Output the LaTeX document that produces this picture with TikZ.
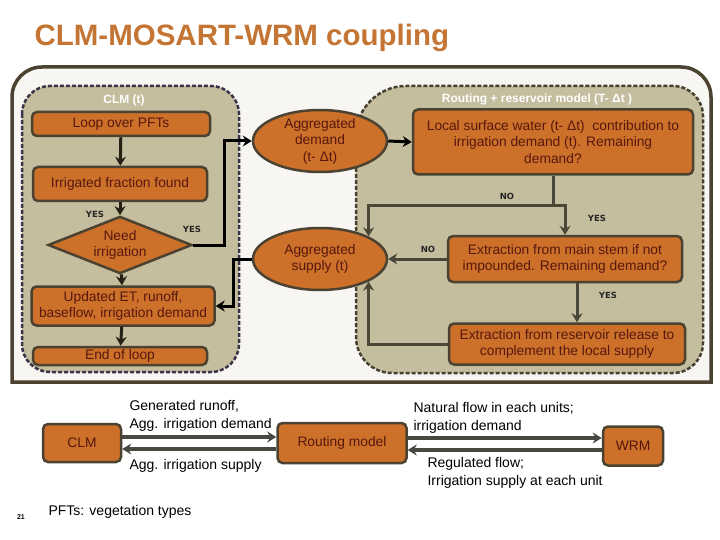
\documentclass[tikz,border=0pt]{standalone}
\usepackage{fontspec}
\setmainfont{Liberation Sans}
\newfontfamily\tagfont{DejaVu Sans}
\usetikzlibrary{shapes.geometric,arrows.meta}
\definecolor{boxorange}{RGB}{204,112,42}
\definecolor{boxedge}{RGB}{75,66,50}
\definecolor{boxtext}{RGB}{88,24,14}
\definecolor{panelfill}{RGB}{196,189,158}
\definecolor{clmedge}{RGB}{58,50,72}
\definecolor{routedge}{RGB}{70,64,48}
\definecolor{pagefill}{RGB}{247,246,242}
\definecolor{titlebrown}{RGB}{196,117,52}
\definecolor{clmline}{RGB}{36,32,20}
\definecolor{routline}{RGB}{74,70,56}
\definecolor{legendline}{RGB}{72,72,66}
\newcommand\flowfont{\fontsize{13.8}{16.5}\selectfont}
\newcommand\legendfont{\fontsize{14}{18}\selectfont}

\begin{document}
\begin{tikzpicture}
[x=1pt,y=-1pt,
 flowbox/.style={draw=boxedge,line width=2.5pt,fill=boxorange,rounded corners=5pt,text=boxtext,align=center,font=\flowfont,inner sep=0pt},
 flowoval/.style={ellipse,draw=boxedge,line width=2.5pt,fill=boxorange,text=boxtext,align=center,font=\flowfont,inner xsep=0pt,inner ysep=-4pt,minimum width=134pt,minimum height=62pt},
 choice/.style={diamond,draw=boxedge,line width=2.5pt,fill=boxorange,text=boxtext,align=center,font=\fontsize{13.8}{15.5}\selectfont,inner sep=-6pt,minimum width=144pt,minimum height=52pt},
 panel/.style={line width=2.5pt,dash pattern=on 4pt off 2pt,fill=panelfill},
 paneltitle/.style={text=white,font=\bfseries\fontsize{12}{14}\selectfont},
 yesno/.style={font=\tagfont\bfseries\fontsize{8.5}{10}\selectfont,text=black!85},
 clmlink/.style={draw=clmline,line width=3pt,-{Stealth[length=9pt,width=11pt,inset=3pt]}},
 routlink/.style={draw=routline,line width=3pt,-{Stealth[length=9pt,width=11pt,inset=3pt]}},
 legendlink/.style={draw=legendline,line width=3.5pt,-{Stealth[length=9pt,width=11pt,inset=3pt]}},
 legendtext/.style={anchor=west,align=left,font=\legendfont}]
\useasboundingbox (0,0) rectangle (720,540);

% title and frames
\node[anchor=base west,text=titlebrown,font=\bfseries\fontsize{29.5}{34}\selectfont] (title) at (31,46) {CLM-MOSART-WRM coupling};
\draw[draw=boxedge,line width=3.5pt,fill=pagefill] (12,382) [rounded corners=30pt] -- (12,67) -- (711,67) [sharp corners] -- (711,382) -- cycle;
\draw[panel,draw=clmedge,rounded corners=28pt] (22,86) rectangle (239,372);
\draw[panel,draw=routedge] (356,220) [rounded corners=50pt] -- (356,86) [rounded corners=30pt] -- (703,86) -- (703,373) [rounded corners=36pt] -- (356,373) [sharp corners] -- cycle;
\node[paneltitle] (clmtitle) at (124,100) {CLM (t)};
\node[paneltitle] (routtitle) at (537,99) {Routing + reservoir model (T- Δt )};

% CLM side
\node[flowbox,minimum width=178pt,minimum height=24pt] (loop) at (121,124) {Loop over PFTs};
\node[flowbox,minimum width=174pt,minimum height=34pt] (irrig) at (120,184) {Irrigated fraction found};
\node[choice] (need) at (120,245) {Need\\irrigation};
\node[flowbox,minimum width=183pt,minimum height=39pt] (updated) at (123,306) {Updated ET, runoff,\\baseflow, irrigation demand};
\node[flowbox,minimum width=174pt,minimum height=18pt] (endloop) at (120,356) {End of loop};

% exchange ovals
\node[flowoval] (aggdem) at (320,141) {Aggregated\\demand\\(t- Δt)};
\node[flowoval] (aggsup) at (320,259) {Aggregated\\supply (t)};

% routing side
\node[flowbox,minimum width=280pt,minimum height=65pt] (local) at (553,142) {Local surface water (t- Δt)\ \ contribution to\\irrigation demand (t). Remaining\\demand?};
\node[flowbox,minimum width=234pt,minimum height=46pt] (mainstem) at (565,259) {Extraction from main stem if not\\impounded. Remaining demand?};
\node[flowbox,minimum width=236pt,minimum height=41pt] (reservoir) at (567,344) {Extraction from reservoir release to\\complement the local supply};

\node[yesno] (yes1) at (95,214) {YES};
\node[yesno] (yes2) at (192,229) {YES};
\node[yesno] (no1) at (507,196) {NO};
\node[yesno] (yes3) at (597,218) {YES};
\node[yesno] (no2) at (428,249) {NO};
\node[yesno] (yes4) at (608,295) {YES};

\draw[clmlink] (loop) -- (irrig);
\draw[clmlink] (irrig) -- (need);
\draw[clmlink] (need) -- (updated);
\draw[clmlink] (updated) -- (endloop);
\draw[clmlink,draw=black] (need.east) -- ++(31,0) |- (aggdem.west);
\draw[clmlink,draw=black] (aggdem.east) -- (local.west);
\draw[clmlink,draw=black] (aggsup.west) -- ++(-18,0) |- (updated.east);

\draw[draw=routline,line width=3pt] (local.south) -- ++(0,30) coordinate (split);
\draw[routlink] (split) -| (aggsup.25);
\draw[routlink] (split) -| (mainstem.north);
\draw[routlink] (mainstem.west) -- (aggsup.east);
\coordinate (resin) at ([xshift=10pt]reservoir.north);
\draw[routlink] (mainstem.south -| resin) -- (resin);
\draw[routlink] (reservoir.west) -| (aggsup.-25);

% legend
\node[flowbox,minimum width=78pt,minimum height=38pt] (clm) at (82,443) {CLM};
\node[flowbox,minimum width=129pt,minimum height=40pt] (routing) at (342,443) {Routing model};
\node[flowbox,minimum width=60pt,minimum height=39pt] (wrm) at (633,446) {WRM};
\draw[legendlink] ([yshift=6pt]clm.east) -- ([yshift=6pt]routing.west);
\draw[legendlink] ([yshift=-6pt]routing.west) -- ([yshift=-6pt]clm.east);
\draw[legendlink] ([yshift=5pt]routing.east) -- ([yshift=5pt]routing.east -| wrm.west);
\draw[legendlink] ([yshift=-7pt]routing.east -| wrm.west) -- ([yshift=-7pt]routing.east);
\node[legendtext] (upnote) at (126,416) {Generated runoff,\\Agg. irrigation demand};
\node[legendtext] (downnote) at (126,466) {Agg. irrigation supply};
\node[legendtext] (flownote) at (410,418) {Natural flow in each units;\\irrigation demand};
\node[legendtext] (supplynote) at (424,473) {Regulated flow;\\Irrigation supply at each unit};
\node[legendtext] (pftnote) at (45,512) {PFTs: vegetation types};
\node[font=\bfseries\fontsize{7}{8}\selectfont] (pageno) at (21,517) {21};
\end{tikzpicture}
\end{document}
